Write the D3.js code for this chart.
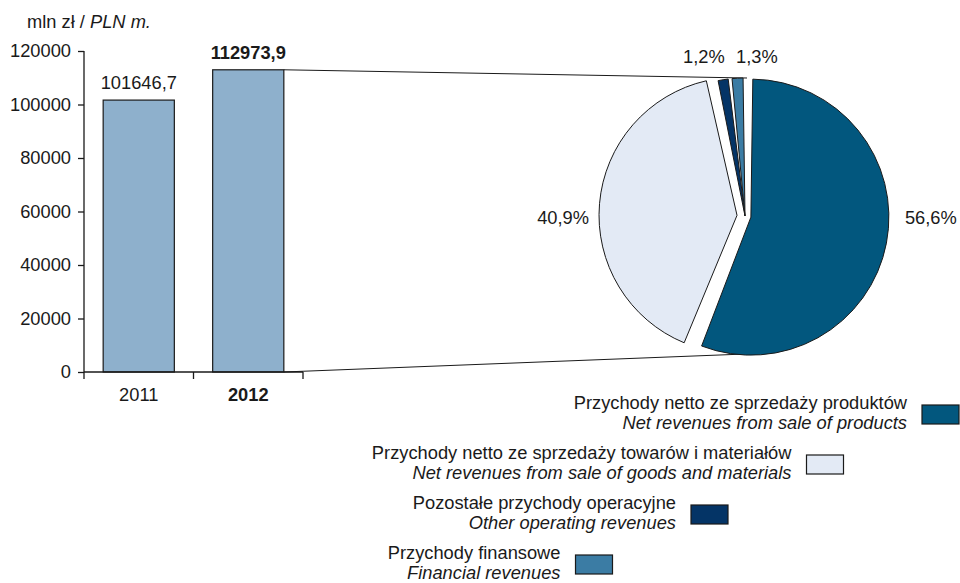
<!DOCTYPE html>
<html>
<head>
<meta charset="utf-8">
<script src="https://cdn.jsdelivr.net/npm/d3@7"></script>
<style>
  html, body { margin: 0; padding: 0; background: #fff; }
  svg { display: block; font-family: Arial, "Liberation Sans", sans-serif; }
</style>
</head>
<body>
<svg id="chart" width="960" height="583"></svg>
<script>
// Revenues, mln PLN
const years = ["2011", "2012"];
const totals = [101646.7, 112973.9];
const yTicks = [0, 20000, 40000, 60000, 80000, 100000, 120000];

// Structure of 2012 revenues, %
const segmentNamesPL = [
  "Przychody netto ze sprzedaży produktów",
  "Przychody netto ze sprzedaży towarów i materiałów",
  "Pozostałe przychody operacyjne",
  "Przychody finansowe"
];
const segmentNamesEN = [
  "Net revenues from sale of products",
  "Net revenues from sale of goods and materials",
  "Other operating revenues",
  "Financial revenues"
];
const segmentShares = [56.6, 40.9, 1.2, 1.3];
const segmentColors = ["#02577e", "#e3eaf5", "#043466", "#3b7ca4"];

const locale = d3.formatLocale({ decimal: ",", thousands: "", grouping: [3], currency: ["", ""] });
const fmt1 = locale.format(".1f");

const svg = d3.select("#chart");
const ink = "#1a1a1a";
const fontSize = 18.3;

// ---- bar part ----
const x = d3.scaleBand().domain(years).range([84, 303]).paddingInner(0.35).paddingOuter(0.175);
const y = d3.scaleLinear().domain([0, 120000]).range([372, 51]);

// unit caption
svg.append("text").attr("x", 27).attr("y", 28).attr("font-size", fontSize).attr("fill", ink)
  .call(t => {
    t.append("tspan").text("mln zł / ");
    t.append("tspan").attr("font-style", "italic").text("PLN m.");
  });

const yAxis = svg.append("g").attr("transform", "translate(84,0)")
  .call(d3.axisLeft(y).tickValues(yTicks).tickSize(6).tickPadding(7).tickFormat(d3.format("d")))
  .attr("font-family", null).attr("font-size", null);
yAxis.select(".domain").attr("stroke", ink).attr("stroke-width", 1.3).attr("d", `M0,${y(120000)}V${y(0)}`);
yAxis.selectAll(".tick line").attr("stroke", ink).attr("stroke-width", 1.3);
yAxis.selectAll(".tick text").attr("font-size", fontSize).attr("fill", ink);

// bars
svg.append("g").selectAll("rect").data(years).join("rect")
  .attr("x", d => x(d))
  .attr("y", (d, i) => y(totals[i]))
  .attr("width", x.bandwidth())
  .attr("height", (d, i) => y(0) - y(totals[i]))
  .attr("fill", "#8eb0cc")
  .attr("stroke", ink)
  .attr("stroke-width", 1.2);

// value labels
svg.append("g").selectAll("text").data(years).join("text")
  .attr("x", d => x(d) + x.bandwidth() / 2)
  .attr("y", (d, i) => y(totals[i]) - 11)
  .attr("text-anchor", "middle")
  .attr("font-size", fontSize)
  .attr("font-weight", (d, i) => i === years.length - 1 ? "bold" : "normal")
  .attr("fill", ink)
  .text((d, i) => fmt1(totals[i]));

// category axis with ticks at band boundaries
const step = x.step();
const xStart = x.range()[0], xEnd = x.range()[1];
const xAxis = svg.append("g");
xAxis.append("line").attr("x1", xStart).attr("x2", xEnd).attr("y1", y(0)).attr("y2", y(0))
  .attr("stroke", ink).attr("stroke-width", 1.3);
const boundaries = [xStart].concat(years.map(d => x(d) + x.bandwidth() + (step - x.bandwidth()) / 2));
xAxis.selectAll(".bt").data(boundaries).join("line").attr("class", "bt")
  .attr("x1", d => d).attr("x2", d => d).attr("y1", y(0)).attr("y2", y(0) + 7)
  .attr("stroke", ink).attr("stroke-width", 1.3);
xAxis.selectAll("text").data(years).join("text")
  .attr("x", d => x(d) + x.bandwidth() / 2)
  .attr("y", y(0) + 29)
  .attr("text-anchor", "middle")
  .attr("font-size", fontSize)
  .attr("font-weight", (d, i) => i === years.length - 1 ? "bold" : "normal")
  .attr("fill", ink)
  .text(d => d);

// ---- pie part: breakdown of the last year ----
const cx = 745, cy = 216, r = 138;
const explode = [6, 8, 0, 0];

const last = years.length - 1;
const barRight = x(years[last]) + x.bandwidth();
svg.append("line").attr("x1", barRight).attr("y1", y(totals[last])).attr("x2", cx + 2).attr("y2", cy - r)
  .attr("stroke", ink).attr("stroke-width", 1);
svg.append("line").attr("x1", barRight).attr("y1", y(0)).attr("x2", cx).attr("y2", cy + r)
  .attr("stroke", ink).attr("stroke-width", 1);

const pie = d3.pie().sort(null).padAngle(0.028).value(d => d);
const arcs = pie(segmentShares);
const arc = d3.arc().innerRadius(0).outerRadius(r).padRadius(r);

function offset(a, i) {
  const mid = (a.startAngle + a.endAngle) / 2;
  return [Math.sin(mid) * explode[i], -Math.cos(mid) * explode[i]];
}

const pieG = svg.append("g").attr("transform", `translate(${cx},${cy})`);
pieG.selectAll("path").data(arcs).join("path")
  .attr("transform", (a, i) => { const o = offset(a, i); return `translate(${o[0]},${o[1]})`; })
  .attr("d", arc)
  .attr("fill", (a, i) => segmentColors[i])
  .attr("stroke", ink)
  .attr("stroke-width", 1);

// percentage labels: large slices at the sides, thin slices above the rim
const pct = d => locale.format(".1f")(d) + "%";
const sideLabels = [], topLabels = [];
arcs.forEach((a, i) => {
  const mid = (a.startAngle + a.endAngle) / 2;
  if (Math.abs(Math.sin(mid)) > 0.9) sideLabels.push({ a, i, mid });
  else topLabels.push({ a, i, mid, x: Math.sin(mid) * r });
});
sideLabels.forEach(l => {
  const right = Math.sin(l.mid) > 0;
  const o = offset(l.a, l.i);
  pieG.append("text")
    .attr("x", right ? r + 16 + o[0] : -(r + 10) + o[0])
    .attr("y", 8)
    .attr("text-anchor", right ? "start" : "end")
    .attr("font-size", fontSize).attr("fill", ink)
    .text(pct(segmentShares[l.i]));
});
// spread thin-slice labels so they do not overlap
const minGap = 53;
topLabels.sort((p, q) => p.x - q.x);
const meanX = d3.mean(topLabels, d => d.x);
topLabels.forEach((l, k) => { l.tx = meanX + (k - (topLabels.length - 1) / 2) * minGap; });
topLabels.forEach(l => {
  pieG.append("text")
    .attr("x", l.tx).attr("y", -r - 15)
    .attr("text-anchor", "middle")
    .attr("font-size", fontSize).attr("fill", ink)
    .text(pct(segmentShares[l.i]));
});

// ---- legend: staggered, text right-aligned next to swatch ----
const legend = svg.append("g");
segmentNamesPL.forEach((name, i) => {
  const swRight = 959 - i * 115.5;
  const swTop = 405 + i * 50;
  const g = legend.append("g");
  g.append("rect").attr("x", swRight - 37).attr("y", swTop).attr("width", 37).attr("height", 19)
    .attr("fill", segmentColors[i]).attr("stroke", ink).attr("stroke-width", 1.2);
  g.append("text").attr("x", swRight - 37 - 15).attr("y", swTop + 4)
    .attr("text-anchor", "end").attr("font-size", fontSize).attr("fill", ink).text(name);
  g.append("text").attr("x", swRight - 37 - 15).attr("y", swTop + 24)
    .attr("text-anchor", "end").attr("font-size", fontSize).attr("font-style", "italic").attr("fill", ink)
    .text(segmentNamesEN[i]);
});
</script>
</body>
</html>
